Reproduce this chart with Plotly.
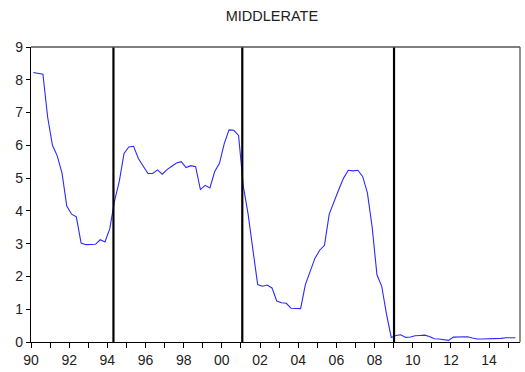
import plotly.graph_objects as go

# Quarterly series, 1990Q1 .. 2015Q2
start_year = 1990
rate = [
    8.22, 8.20, 8.17, 6.85,   # 1990
    6.00, 5.68, 5.15, 4.15,   # 1991
    3.90, 3.82, 3.02, 2.97,   # 1992
    2.97, 2.98, 3.12, 3.05,   # 1993
    3.45, 4.30, 4.90, 5.75,   # 1994
    5.95, 5.97, 5.60, 5.35,   # 1995
    5.14, 5.14, 5.25, 5.12,   # 1996
    5.26, 5.36, 5.46, 5.50,   # 1997
    5.32, 5.38, 5.35, 4.65,   # 1998
    4.78, 4.70, 5.20, 5.45,   # 1999
    6.05, 6.47, 6.46, 6.30,   # 2000
    4.75, 3.90, 2.80, 1.75,   # 2001
    1.70, 1.74, 1.65, 1.25,   # 2002
    1.20, 1.18, 1.03, 1.02,   # 2003
    1.02, 1.75, 2.15, 2.55,   # 2004
    2.80, 2.95, 3.90, 4.30,   # 2005
    4.65, 5.00, 5.24, 5.22,   # 2006
    5.24, 5.05, 4.55, 3.50,   # 2007
    2.05, 1.70, 0.85, 0.14,   # 2008
    0.20, 0.22, 0.14, 0.15,   # 2009
    0.19, 0.20, 0.21, 0.17,   # 2010
    0.10, 0.09, 0.07, 0.05,   # 2011
    0.15, 0.16, 0.16, 0.16,   # 2012
    0.12, 0.09, 0.09, 0.09,   # 2013
    0.09, 0.09, 0.11, 0.13,   # 2014
    0.13, 0.13,               # 2015
]

# Break dates marked with vertical lines (decimal years)
break_dates = [1994.32, 2001.07, 2009.02]

tick_years = list(range(1990, 2015, 2))
tick_labels = [f"{y % 100:02d}" for y in tick_years]
y_ticks = list(range(0, 10))

# each quarter plotted at its midpoint
x_vals = [start_year + (i + 0.5) / 4 for i in range(len(rate))]
x_min, x_max = 1990.0, 2015.62

fig = go.Figure()
fig.add_trace(go.Scatter(
    x=x_vals, y=rate, mode="lines",
    line=dict(color="#2a2aff", width=1.1),
    showlegend=False, hoverinfo="skip",
))

shapes = []
for d in break_dates:
    shapes.append(dict(type="line", xref="x", yref="paper", x0=d, x1=d, y0=0, y1=1,
                       line=dict(color="black", width=2.2), layer="above"))
# grey top and right frame
shapes.append(dict(type="line", xref="paper", yref="paper", x0=0, x1=1, y0=1, y1=1,
                   line=dict(color="#555555", width=1.3), layer="above"))
shapes.append(dict(type="line", xref="paper", yref="paper", x0=1, x1=1, y0=0, y1=1,
                   line=dict(color="#555555", width=1.3), layer="above"))

fig.update_layout(
    width=525, height=372,
    margin=dict(l=31, r=5, t=47, b=30),
    paper_bgcolor="white", plot_bgcolor="white",
    font=dict(family="Liberation Sans, Arial, sans-serif", size=14, color="#222222"),
    title=dict(text="MIDDLERATE", x=0.518, xanchor="center", y=0.958, yanchor="middle",
               font=dict(size=14.5, color="#222222")),
    shapes=shapes,
    xaxis=dict(
        range=[x_min, x_max], showgrid=False, zeroline=False,
        showline=True, linecolor="black", linewidth=1.3,
        tickmode="array", tickvals=tick_years, ticktext=tick_labels,
        ticks="outside", ticklen=5, tickwidth=1, tickcolor="black",
        minor=dict(tickmode="array", tickvals=list(range(1991, 2016, 2)),
                   ticks="outside", ticklen=5, tickwidth=1, tickcolor="black"),
        tickfont=dict(size=14),
    ),
    yaxis=dict(
        range=[0, 9], showgrid=False, zeroline=False,
        showline=True, linecolor="black", linewidth=1.3,
        tickmode="array", tickvals=y_ticks,
        ticks="outside", ticklen=4, tickwidth=1, tickcolor="black",
        tickfont=dict(size=14),
    ),
)

fig.write_html("out.html")
